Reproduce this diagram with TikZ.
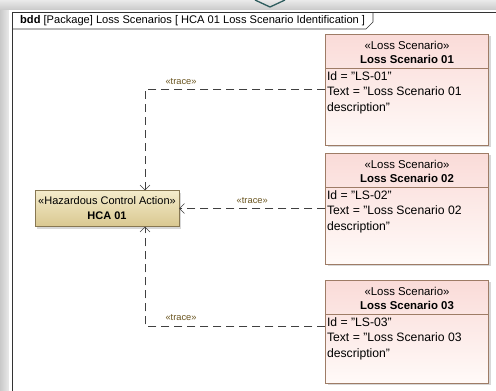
\documentclass[tikz,border=0pt]{standalone}
\usepackage{fontspec}
\setmainfont{Liberation Sans}
\usetikzlibrary{arrows.meta,positioning,shadows}
\definecolor{ScenPink}{HTML}{FADBD8}
\definecolor{ScenWhite}{HTML}{FFFAF8}
\definecolor{ScenEdge}{HTML}{9E7C66}
\definecolor{HcaLight}{HTML}{F4ECCB}
\definecolor{HcaDark}{HTML}{D9C790}
\definecolor{HcaEdge}{HTML}{877752}
\definecolor{TraceText}{HTML}{6A5520}
\definecolor{PaneGray}{HTML}{C9C9C9}
\definecolor{PaneLight}{HTML}{EAEAEA}
\definecolor{TabTeal}{HTML}{2E5D5E}

\begin{document}
\begin{tikzpicture}[x=1pt,y=-1pt, every node/.style={font=\fontsize{11}{14}\selectfont},
  scenario/.style={draw=ScenEdge,top color=ScenPink,bottom color=ScenWhite,minimum width=163pt,inner sep=0pt,drop shadow={shadow xshift=2pt,shadow yshift=-2pt,fill=black!30}},
  scenhead/.style={anchor=north,align=center,inner sep=2pt,font=\fontsize{11.4}{14}\selectfont},
  scenbody/.style={anchor=north west,align=left,inner sep=1.5pt,font=\fontsize{12.2}{15.5}\selectfont},
  hcabox/.style={draw=HcaEdge,top color=HcaLight,bottom color=HcaDark,minimum width=144pt,minimum height=36pt,align=center,inner sep=0pt,font=\fontsize{11}{15}\selectfont,drop shadow={shadow xshift=2pt,shadow yshift=-2pt,fill=black!30}},
  trace/.style={draw=black!75,dash pattern=on 8pt off 5pt,-{Straight Barb[length=5pt,width=10pt]}},
  tracelbl/.style={text=TraceText,font=\fontsize{9.3}{11}\selectfont,inner sep=5pt}]
\useasboundingbox (0,0) rectangle (496,391);
% window pane round the diagram
\shade[top color=PaneLight,bottom color=PaneGray] (0,0) rectangle (496,10);
\shade[left color=PaneGray,right color=PaneLight] (0,10) rectangle (9,391);
\fill[white] (9,10) rectangle (496,391);
\draw[TabTeal,line width=1.3pt] (255,0) -- (270,7) -- (285,0);
% frame and name tab
\draw[black!80,line width=0.8pt] (12,391) -- (12,12) -- (496,12);
\draw[black!80,line width=0.6pt] (12,29) -- (366,29) -- (373,22) -- (373,12);
\node[anchor=west,inner sep=0pt,font=\fontsize{11.1}{14}\selectfont] (title) at (20,20.5) {\textbf{bdd} [Package] Loss Scenarios [ HCA 01 Loss Scenario Identification ]};

% loss scenarios
\node[scenario,minimum height=111pt] (ls1) at (407,89.5) {};
\node[scenario,minimum height=111pt] (ls2) at (407,208.5) {};
\node[scenario,minimum height=103pt] (ls3) at (407,331.5) {};
\foreach \n in {1,2,3} {
  \draw[ScenEdge] ([yshift=-34pt]ls\n.north west) -- ([yshift=-34pt]ls\n.north east);
  \node[scenhead] (ls\n head) at ([yshift=-5pt]ls\n.north) {«Loss Scenario»\\\textbf{Loss Scenario 0\n}};
  \node[scenbody] (ls\n body) at ([yshift=-36pt]ls\n.north west) {Id = "LS-0\n"\\Text = "Loss Scenario 0\n\\description"};
}

% hazardous control action
\node[hcabox] (hca) at (107,208.5) {«Hazardous Control Action»\\\textbf{HCA 01}};

\draw[trace] (ls1.west) -| ([xshift=38pt]hca.north) node[tracelbl,pos=0.4,above] {«trace»};
\draw[trace] (ls2.west) -- (hca.east) node[tracelbl,midway,above] {«trace»};
\draw[trace] ([yshift=5.5pt]ls3.west) -| ([xshift=38pt]hca.south) node[tracelbl,pos=0.4,above] {«trace»};
\end{tikzpicture}
\end{document}
